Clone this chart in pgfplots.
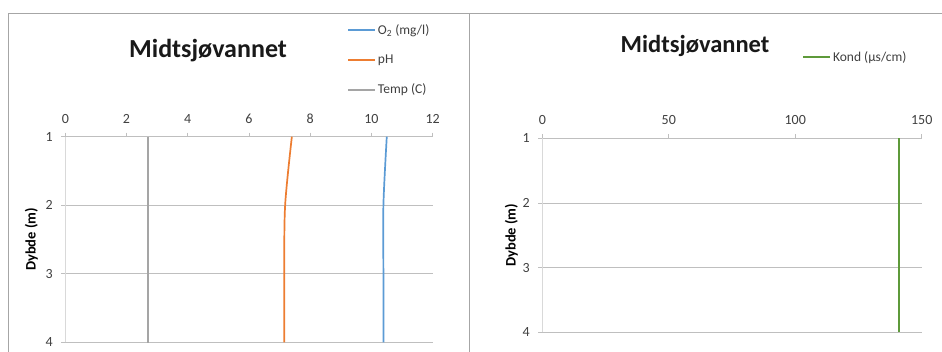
\documentclass[border=0pt]{standalone}
\usepackage{fontspec}
\setmainfont{Carlito}
\usepackage{pgfplots}
\pgfplotsset{compat=1.18}
\definecolor{otwo}{HTML}{5B9BD5}
\definecolor{phc}{HTML}{ED7D31}
\definecolor{tempc}{HTML}{A5A5A5}
\definecolor{kondc}{HTML}{5E9A3A}
\definecolor{gridc}{HTML}{BFBFBF}
\definecolor{spinec}{HTML}{D9D9D9}
\definecolor{framec}{HTML}{A6A6A6}
\definecolor{textc}{HTML}{404040}
\pgfplotstableread{
depth o2 ph temp
1 10.50 7.40 2.69
2 10.39 7.18 2.69
3 10.39 7.15 2.69
4 10.39 7.15 2.69
}\lefttab
\pgfplotstableread{
depth kond
1 140.9
2 140.9
3 140.9
4 140.9
}\righttab
\pgfplotsset{
  excel/.style={
    scale only axis,
    y dir=reverse,
    ymin=1, ymax=4,
    ytick={1,2,3,4},
    axis line style={draw=none},
    ymajorgrids,
    grid style={draw=gridc, line width=0.8pt},
    tick align=outside,
    major tick length=4pt,
    every tick/.style={draw=gridc, line width=0.8pt},
    xtick pos=upper, xticklabel pos=upper,
    ytick pos=left, yticklabel pos=left,
    tick label style={font=\fontsize{14}{16}\selectfont, text=textc},
    xticklabel style={yshift=6pt},
    yticklabel style={xshift=-5pt},
    /pgf/number format/assume math mode=true,
    ylabel style={font=\bfseries\fontsize{14.5}{16}\selectfont, text=black},
    legend style={draw=none, fill=none, inner sep=0pt, font=\fontsize{13.5}{15}\selectfont,
      text=textc, row sep=15pt, legend cell align=left},
    legend image code/.code={\draw[##1] (0pt,0pt) -- (27pt,0pt);},
    clip=false,
  }
}
\begin{document}
\begin{tikzpicture}[x=1pt,y=1pt]
\useasboundingbox (0,0) rectangle (942,-352);
\fill[white] (0,0) rectangle (942,-352);
\draw[framec, line width=0.8pt] (8,-353) -- (8,-13) -- (469,-13) -- (469,-353);
\draw[framec, line width=0.8pt] (470,-13) -- (943,-13);
\node[font=\bfseries\fontsize{26}{30}\selectfont, text=black!90] at (208,-51) {Midtsjøvannet};
\node[font=\bfseries\fontsize{24.5}{28}\selectfont, text=black!90] at (695,-46) {Midtsjøvannet};
\begin{axis}[excel,
  at={(65.3pt,-136.7pt)}, anchor=north west,
  width=367.4pt, height=205.6pt,
  xmin=0, xmax=12, xtick={0,2,4,6,8,10,12},
  ylabel={Dybde (m)},
  ylabel style={yshift=1pt},
  legend style={at={(axis description cs:0.767,1)}, anchor=south west, yshift=39pt},
]
\draw[spinec, line width=0.8pt] (rel axis cs:0,0) -- (rel axis cs:0,1);
\addplot[otwo, line width=1.7pt, smooth] table[x=o2, y=depth] {\lefttab};
\addlegendentry{O\textsubscript{2} (mg/l)}
\addplot[phc, line width=1.7pt, smooth] table[x=ph, y=depth] {\lefttab};
\addlegendentry{pH}
\addplot[tempc, line width=1.7pt, smooth] table[x=temp, y=depth] {\lefttab};
\addlegendentry{Temp (C)}
\end{axis}
\begin{axis}[excel,
  at={(542.3pt,-138.3pt)}, anchor=north west,
  width=379.4pt, height=194pt,
  xmin=0, xmax=150, xtick={0,50,100,150},
  ylabel={Dybde (m)},
  ylabel style={yshift=-2pt},
  legend style={at={(axis description cs:0.685,1)}, anchor=west, yshift=81pt},
]
\draw[spinec, line width=0.8pt] (rel axis cs:0,0) -- (rel axis cs:0,1);
\addplot[kondc, line width=1.7pt] table[x=kond, y=depth] {\righttab};
\addlegendentry{Kond (µs/cm)}
\end{axis}
\end{tikzpicture}
\end{document}
